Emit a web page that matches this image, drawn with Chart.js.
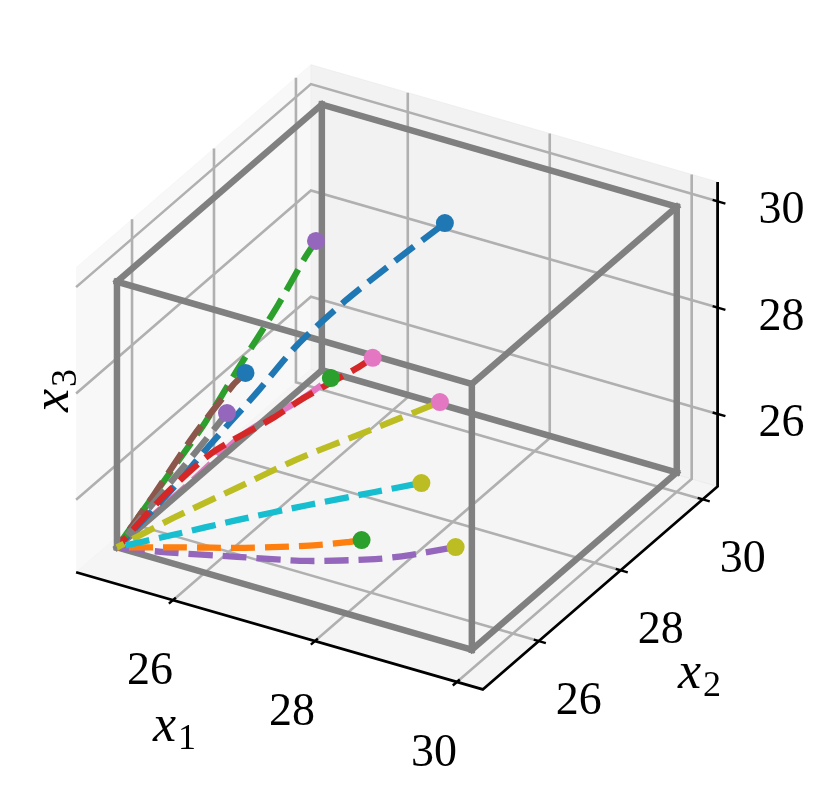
<!DOCTYPE html>
<html>
<head>
<meta charset="utf-8">
<style>
  html, body { margin: 0; padding: 0; background: #fff; }
  canvas { display: block; }
</style>
<script src="https://cdn.jsdelivr.net/npm/chart.js@4"></script>
</head>
<body>
<canvas id="chart3d" width="828" height="798"></canvas>
<script>
// Values, one row per dashed curve
const x1Paths = [
  [25, 25.32, 25.55, 25.82, 26.03, 26.40, 26.77, 27.23],
  [25, 25.68, 26.09, 26.46, 26.85, 27.24, 27.55, 27.69],
  [25, 25.35, 25.63, 25.82, 26.07, 26.21, 26.28],
  [25, 25.23, 25.53, 26.10, 26.36, 26.87, 27.01],
  [25, 25.63, 26.50, 27.36, 28.12, 28.47, 28.90],
  [25, 25.20, 25.38, 25.62, 25.72],
  [25, 25.45, 25.76, 26.28, 26.49],
  [25, 25.32, 25.51, 25.69],
  [25, 25.41, 25.91, 26.40, 26.95, 27.61],
  [25, 25.53, 26.15, 26.82, 27.49, 27.95]
];
const x2Paths = [
  [25, 25.67, 26.31, 26.99, 27.61, 28.15, 28.72, 29.14],
  [25, 25.29, 25.44, 25.59, 25.78, 26.00, 26.20, 26.31],
  [25, 25.56, 26.05, 26.51, 27.08, 27.50, 27.64],
  [25, 25.77, 26.40, 26.90, 27.19, 27.61, 27.76],
  [25, 25.12, 25.33, 25.56, 25.90, 26.14, 26.51],
  [25, 25.58, 26.19, 26.76, 26.89],
  [25, 26.00, 26.76, 27.33, 27.64],
  [25, 25.66, 26.08, 26.49],
  [25, 25.66, 26.35, 27.04, 27.63, 28.36],
  [25, 25.43, 25.96, 26.49, 26.98, 27.32]
];
const x3Paths = [
  [25, 25.67, 26.26, 26.90, 27.46, 28.08, 28.59, 29.20],
  [25, 25.07, 25.12, 25.16, 25.20, 25.24, 25.28, 25.30],
  [25, 26.03, 26.88, 27.64, 28.59, 29.26, 29.50],
  [25, 25.56, 26.05, 26.59, 26.87, 27.35, 27.50],
  [25, 25.07, 25.18, 25.28, 25.38, 25.43, 25.50],
  [25, 25.71, 26.43, 27.12, 27.30],
  [25, 25.72, 26.24, 26.75, 27.00],
  [25, 25.82, 26.31, 26.80],
  [25, 25.27, 25.57, 25.86, 26.15, 26.50],
  [25, 25.15, 25.32, 25.50, 25.68, 25.80]
];
const lineColors = ['#1f77b4', '#ff7f0e', '#2ca02c', '#d62728', '#9467bd', '#8c564b', '#e377c2', '#7f7f7f', '#bcbd22', '#17becf'];
const dotColors = ['#1f77b4', '#2ca02c', '#9467bd', '#e377c2', '#bcbd22', '#1f77b4', '#2ca02c', '#9467bd', '#e377c2', '#bcbd22'];
const dashOffsets = [8, 22, 32, 10, 30, 12, 0, 18, 16, 25];
const tickValues = [26, 28, 30];
const boxRange = [25, 30];
const axisLimits = [24.75, 30.25];
const paneRange = [24.635, 30.365];

// Orthographic view, elev 30 azim -60, box aspect 4:4:3
const boxAspect = [4, 4, 3];
const viewU = [0.86603, 0.5, 0];
const viewV = [-0.25, 0.43301, 0.86603];

function project(x1, x2, x3) {
  const q = [x1, x2, x3].map((c, i) => (c - axisLimits[0]) / (axisLimits[1] - axisLimits[0]) * boxAspect[i]);
  return {
    x: q[0] * viewU[0] + q[1] * viewU[1] + q[2] * viewU[2],
    y: q[0] * viewV[0] + q[1] * viewV[1] + q[2] * viewV[2]
  };
}

const [pl, ph] = paneRange;
const [bl, bh] = boxRange;
const datasets = [];

function addPath(points, color, width, extra) {
  datasets.push(Object.assign({
    data: points.map(p => project(p[0], p[1], p[2])),
    showLine: true,
    borderColor: color,
    borderWidth: width,
    pointRadius: 0,
    fill: false,
    clip: false
  }, extra || {}));
}

function addPane(corners, color) {
  addPath(corners, color, 1, { backgroundColor: color, fill: 'shape' });
}

function addCurve(i) {
  const pts = x1Paths[i].map((v, k) => [v, x2Paths[i][k], x3Paths[i][k]]);
  addPath(pts, lineColors[i], 6.3, { borderDash: [24, 10], borderDashOffset: dashOffsets[i], tension: 0.25, borderCapStyle: 'butt' });
}

function addDot(i) {
  const last = x1Paths[i].length - 1;
  datasets.push({
    data: [project(x1Paths[i][last], x2Paths[i][last], x3Paths[i][last])],
    backgroundColor: dotColors[i],
    borderWidth: 0,
    pointRadius: 9,
    showLine: false,
    clip: false
  });
}

function addEdge(a, b) {
  addPath([a, b], '#808080', 6.5, { borderCapStyle: 'square' });
}

// panes
addPane([[pl, pl, pl], [pl, ph, pl], [pl, ph, ph], [pl, pl, ph]], 'rgba(242,242,242,0.5)');
addPane([[pl, ph, pl], [ph, ph, pl], [ph, ph, ph], [pl, ph, ph]], 'rgba(230,230,230,0.5)');
addPane([[pl, pl, pl], [ph, pl, pl], [ph, ph, pl], [pl, ph, pl]], 'rgba(236,236,236,0.5)');

// grid lines
tickValues.forEach(t => {
  addPath([[t, pl, pl], [t, ph, pl], [t, ph, ph]], '#b0b0b0', 2.6);
  addPath([[ph, t, pl], [pl, t, pl], [pl, t, ph]], '#b0b0b0', 2.6);
  addPath([[pl, pl, t], [pl, ph, t], [ph, ph, t]], '#b0b0b0', 2.6);
});

// axis lines and ticks
addPath([[pl, pl, pl], [ph, pl, pl], [ph, ph, pl], [ph, ph, ph]], '#000000', 2.8);
tickValues.forEach(t => {
  addPath([[t, pl + 0.07, pl], [t, pl - 0.1, pl]], '#000000', 2.4);
  addPath([[ph - 0.07, t, pl], [ph + 0.1, t, pl]], '#000000', 2.4);
  addPath([[ph - 0.07, ph, t], [ph + 0.11, ph, t]], '#000000', 2.4);
});

// back edges of the gray box
addEdge([bl, bh, bl], [bh, bh, bl]);
addEdge([bl, bh, bl], [bl, bh, bh]);
addEdge([bl, bh, bh], [bh, bh, bh]);
addEdge([bh, bh, bl], [bh, bh, bh]);
addEdge([bh, bl, bl], [bh, bh, bl]);
addEdge([bh, bl, bh], [bh, bh, bh]);
addEdge([bl, bl, bh], [bh, bl, bh]);
addEdge([bl, bl, bh], [bl, bh, bh]);
addEdge([bh, bl, bl], [bh, bl, bh]);

addCurve(6);
addEdge([bl, bl, bl], [bl, bh, bl]);
[0, 2, 5, 7, 3].forEach(addCurve);
addEdge([bl, bl, bl], [bh, bl, bl]);
addEdge([bl, bl, bl], [bl, bl, bh]);
[4, 1, 8, 9].forEach(addCurve);
lineColors.forEach((c, i) => addDot(i));

// order decides who is painted on top: first pushed goes to the back
datasets.forEach((d, i) => { d.order = datasets.length - i; });

// Tick numbers and axis names, placed from the tick positions
const tickLabels = {
  id: 'tickLabels',
  afterDatasetsDraw(chart) {
    const { ctx, scales } = chart;
    const px = (p, dx, dy) => {
      const q = project(p[0], p[1], p[2]);
      return [scales.x.getPixelForValue(q.x) + dx, scales.y.getPixelForValue(q.y) + dy];
    };
    ctx.save();
    ctx.fillStyle = '#000';
    ctx.textAlign = 'center';
    ctx.textBaseline = 'middle';
    ctx.font = "46px 'Liberation Serif'";
    tickValues.forEach(t => {
      let [a, b] = px([t, pl, pl], -23, 72);
      ctx.fillText(String(t), a, b);
      [a, b] = px([ph, t, pl], 40, 61);
      ctx.fillText(String(t), a, b);
      [a, b] = px([ph, ph, t], 64, 10);
      ctx.fillText(String(t), a, b);
    });
    const axisName = (x, y, sub, rot) => {
      ctx.save();
      ctx.translate(x, y);
      ctx.rotate(rot);
      ctx.textAlign = 'left';
      ctx.textBaseline = 'alphabetic';
      ctx.font = "italic 52px 'Liberation Serif'";
      ctx.fillText('x', -20, 0);
      ctx.font = "36px 'Liberation Serif'";
      ctx.fillText(sub, 5, 8);
      ctx.restore();
    };
    axisName(173, 741, '1', 0);
    axisName(698, 688, '2', 0);
    axisName(68, 392, '3', -Math.PI / 2);
    ctx.restore();
  }
};

new Chart(document.getElementById('chart3d').getContext('2d'), {
  type: 'scatter',
  data: { datasets },
  options: {
    responsive: false,
    animation: false,
    events: [],
    layout: { padding: 0, autoPadding: false },
    plugins: { legend: { display: false }, tooltip: { enabled: false } },
    scales: {
      x: { type: 'linear', display: false, min: -0.78952, max: 6.55806 },
      y: { type: 'linear', display: false, min: -2.07626, max: 5.01686 }
    }
  },
  plugins: [tickLabels]
});
</script>
</body>
</html>
